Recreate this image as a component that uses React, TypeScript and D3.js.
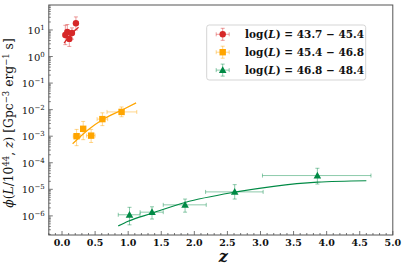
import React from "react";
import * as d3 from "d3";

// ---- data ----
const redZ = [0.05, 0.08, 0.11, 0.15, 0.21];
const redZlo = [0.03, 0.06, 0.09, 0.12, 0.19];
const redZhi = [0.07, 0.10, 0.13, 0.18, 0.24];
const redPhi = [6.5, 8.4, 4.6, 7.7, 18];
const redPhiLo = [2.8, 4.0, 2.4, 4.5, 10];
const redPhiHi = [15, 16, 9, 12, 31];

const orZ = [0.22, 0.32, 0.44, 0.61, 0.9];
const orZlo = [0.17, 0.3, 0.37, 0.53, 0.68];
const orZhi = [0.28, 0.34, 0.5, 0.69, 1.13];
const orPhi = [1.0e-3, 1.9e-3, 1.05e-3, 4.4e-3, 8.2e-3];
const orPhiLo = [4.4e-4, 7.4e-4, 5.8e-4, 2.5e-3, 5.4e-3];
const orPhiHi = [1.8e-3, 3.6e-3, 1.8e-3, 7.6e-3, 1.26e-2];

const grZ = [1.02, 1.36, 1.86, 2.61, 3.86];
const grZlo = [0.85, 1.18, 1.53, 2.17, 3.03];
const grZhi = [1.18, 1.53, 2.18, 3.04, 4.67];
const grPhi = [1.1e-6, 1.38e-6, 2.6e-6, 8e-6, 3.3e-5];
const grPhiLo = [4.6e-7, 7.6e-7, 1.38e-6, 4.3e-6, 1.58e-5];
const grPhiHi = [2.1e-6, 2.2e-6, 4.3e-6, 1.5e-5, 6.2e-5];

// fitted model curves
const redFitZ = [0.03, 0.14, 0.25];
const redFitPhi = [3.2, 7.0, 12.6];
const orFitZ = [0.16, 0.4, 0.61, 0.9, 1.12];
const orFitPhi = [5.2e-4, 1.8e-3, 4.2e-3, 9.5e-3, 1.8e-2];
const grFitZ = [0.85, 1.0, 1.36, 1.86, 2.61, 3.2, 3.86, 4.6];
const grFitPhi = [4.2e-7, 6.3e-7, 1.26e-6, 3.2e-6, 7.8e-6, 1.3e-5, 1.86e-5, 2.1e-5];

const xTicks = [0, 0.5, 1, 1.5, 2, 2.5, 3, 3.5, 4, 4.5, 5];
const yTickExps = [1, 0, -1, -2, -3, -4, -5, -6];
const legendLabels = ["43.7 − 45.4", "45.4 − 46.8", "46.8 − 48.4"];

const RED = "#d62728";
const ORANGE = "#ffa500";
const GREEN = "#008a45";

const W = 407, H = 271;
const left = 48.8, right = 392.8, top = 5, bottom = 235;

export default function App() {
  const x = d3.scaleLinear().domain([-0.2, 5.0]).range([left, right]);
  const y = d3.scaleLog().domain([Math.pow(10, -6.72), Math.pow(10, 1.94)]).range([bottom, top]);
  const line = d3
    .line<[number, number]>()
    .x((d) => x(d[0]))
    .y((d) => y(d[1]))
    .curve(d3.curveMonotoneX);

  const series = [
    { color: RED, shape: "circle", z: redZ, zlo: redZlo, zhi: redZhi, p: redPhi, plo: redPhiLo, phi: redPhiHi, fz: redFitZ, fp: redFitPhi },
    { color: ORANGE, shape: "square", z: orZ, zlo: orZlo, zhi: orZhi, p: orPhi, plo: orPhiLo, phi: orPhiHi, fz: orFitZ, fp: orFitPhi },
    { color: GREEN, shape: "triangle", z: grZ, zlo: grZlo, zhi: grZhi, p: grPhi, plo: grPhiLo, phi: grPhiHi, fz: grFitZ, fp: grFitPhi },
  ];

  const marker = (shape: string, cx: number, cy: number, color: string, key?: any) => {
    if (shape === "circle") return <circle key={key} cx={cx} cy={cy} r={3.2} fill={color} />;
    if (shape === "square") return <rect key={key} x={cx - 3.2} y={cy - 3.2} width={6.4} height={6.4} fill={color} />;
    const s = 3.8;
    return <path key={key} d={`M${cx},${cy - s} L${cx + s},${cy + s * 0.75} L${cx - s},${cy + s * 0.75} Z`} fill={color} />;
  };

  const cap = 2;
  const errbar = (color: string, x0: number, x1: number, xc: number, y0: number, y1: number, yc: number, key: any) => (
    <g key={key} stroke={color} strokeOpacity={0.45} strokeWidth={1} fill="none">
      <line x1={x0} x2={x1} y1={yc} y2={yc} />
      <line x1={x0} x2={x0} y1={yc - cap} y2={yc + cap} />
      <line x1={x1} x2={x1} y1={yc - cap} y2={yc + cap} />
      <line x1={xc} x2={xc} y1={y0} y2={y1} />
      <line x1={xc - cap} x2={xc + cap} y1={y0} y2={y0} />
      <line x1={xc - cap} x2={xc + cap} y1={y1} y2={y1} />
    </g>
  );

  // minor ticks
  const xMinor = d3.range(-0.2, 5.0001, 0.1).map((v) => Math.round(v * 10) / 10);
  const yMinor: number[] = [];
  for (let e = -7; e <= 1; e++) for (let m = 1; m <= 9; m++) {
    const v = m * Math.pow(10, e);
    const lv = Math.log10(v);
    if (lv >= -6.72 && lv <= 1.94) yMinor.push(v);
  }

  const font = "'DejaVu Serif', serif";
  const axisColor = "#555";

  return (
    <svg width={W} height={H} style={{ position: "absolute", left: 0, top: 0, background: "#fff" }} fontFamily={font}>
      <defs>
        <clipPath id="plot">
          <rect x={left} y={top} width={right - left} height={bottom - top} />
        </clipPath>
      </defs>
      {/* data */}
      <g clipPath="url(#plot)">
        {series.map((s, si) => (
          <g key={si}>
            <path d={line(s.fz.map((z, i) => [z, s.fp[i]] as [number, number])) || ""} stroke={s.color} strokeWidth={1.2} fill="none" />
            {s.z.map((z, i) => errbar(s.color, x(s.zlo[i]), x(s.zhi[i]), x(z), y(s.plo[i]), y(s.phi[i]), y(s.p[i]), "e" + i))}
            {s.z.map((z, i) => marker(s.shape, x(z), y(s.p[i]), s.color, "m" + i))}
          </g>
        ))}
      </g>
      {/* frame */}
      <rect x={left} y={top} width={right - left} height={bottom - top} fill="none" stroke={axisColor} strokeWidth={1} />
      {/* x ticks */}
      {xMinor.map((v, i) => {
        const isMajor = Math.abs(v * 2 - Math.round(v * 2)) < 1e-6;
        return <line key={"xm" + i} x1={x(v)} x2={x(v)} y1={bottom} y2={bottom - (isMajor ? 4 : 2)} stroke={axisColor} strokeWidth={0.8} />;
      })}
      {xTicks.map((v) => (
        <text key={"xl" + v} x={x(v)} y={bottom + 11} fontSize={9.5} textAnchor="middle" fontWeight="bold" fill="#111">
          {v.toFixed(1)}
        </text>
      ))}
      {/* y ticks */}
      {yMinor.map((v, i) => {
        const isMajor = Math.abs(Math.log10(v) - Math.round(Math.log10(v))) < 1e-9;
        return <line key={"ym" + i} x1={left} x2={left + (isMajor ? 4 : 2)} y1={y(v)} y2={y(v)} stroke={axisColor} strokeWidth={0.8} />;
      })}
      {yTickExps.map((e) => (
        <text key={"yl" + e} x={left - 4} y={y(Math.pow(10, e)) + 4} fontSize={10} textAnchor="end" fill="#111">
          <tspan>10</tspan>
          <tspan dy={-4} fontSize={7}>{e < 0 ? "−" + Math.abs(e) : String(e)}</tspan>
        </text>
      ))}
      {/* axis labels */}
      <text x={x(2.5) - 4} y={262} fontSize={16} fontStyle="italic" fontWeight="bold" textAnchor="middle" fill="#111">z</text>
      <text transform={`translate(13,${(top + bottom) / 2 + 3}) rotate(-90)`} fontSize={12.3} textAnchor="middle" fill="#111">
        <tspan fontStyle="italic">ϕ</tspan>
        <tspan>(</tspan>
        <tspan fontStyle="italic">L</tspan>
        <tspan>/10</tspan>
        <tspan dy={-4} fontSize={8.5}>44</tspan>
        <tspan dy={4}>, </tspan>
        <tspan fontStyle="italic">z</tspan>
        <tspan>) [Gpc</tspan>
        <tspan dy={-4} fontSize={8.5}>−3</tspan>
        <tspan dy={4}> erg</tspan>
        <tspan dy={-4} fontSize={8.5}>−1</tspan>
        <tspan dy={4}> s]</tspan>
      </text>
      {/* legend */}
      <rect x={206.7} y={25} width={159} height={55} rx={2.5} fill="#fff" fillOpacity={0.8} stroke="#d0d0d0" strokeWidth={0.9} />
      {series.map((s, i) => {
        const ly = 34.3 + i * 17.9;
        const lx = 222.7;
        return (
          <g key={"lg" + i}>
            {errbar(s.color, lx - 6.5, lx + 6.5, lx, ly - 6, ly + 6, ly, "le")}
            {marker(s.shape, lx, ly, s.color)}
            <text x={245} y={ly + 4} fontSize={10.5} fontWeight="bold" fill="#111">
              <tspan>log(</tspan>
              <tspan fontStyle="italic">L</tspan>
              <tspan>) = {legendLabels[i]}</tspan>
            </text>
          </g>
        );
      })}
    </svg>
  );
}
